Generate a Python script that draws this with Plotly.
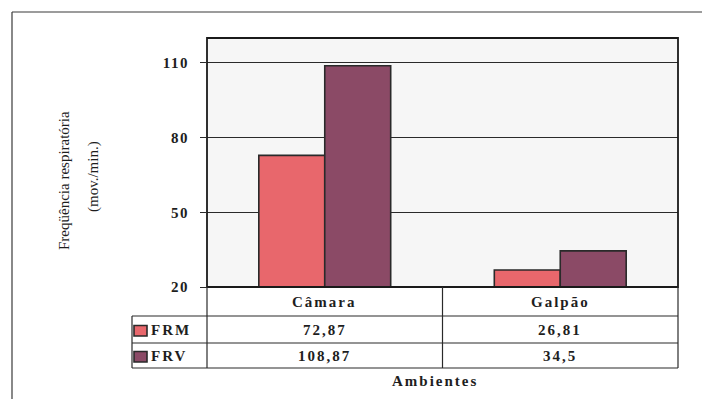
import plotly.graph_objects as go

# Respiratory frequency by environment
ambientes = ["Câmara", "Galpão"]
series_names = ["FRM", "FRV"]
frm = [72.87, 26.81]
frv = [108.87, 34.5]
y_ticks = [20, 50, 80, 110]

colors = {"FRM": "#e8676c", "FRV": "#8b4a66"}
values = {"FRM": frm, "FRV": frv}

W, H = 702, 399
L, R, T, B = 207, 678, 38, 287  # plot-area edges in pixels
FONT = "Liberation Serif"
INK = "#1e1e1e"
LINE = "#2a2a2a"


def px(x):
    return (x - L) / (R - L)


def py(y):
    return (B - y) / (B - T)


def fmt(v):
    return f"{v:g}".replace(".", ",")


fig = go.Figure()
for name in series_names:
    fig.add_trace(go.Bar(
        x=ambientes, y=[v - 20 for v in values[name]], base=20, name=name,
        marker=dict(color=colors[name], line=dict(color=LINE, width=1.6)),
        showlegend=False, hoverinfo="skip",
    ))

shapes = []
# outer frame: top and left edges only
shapes.append(dict(type="line", xref="paper", yref="paper",
                   x0=px(12), x1=px(W), y0=py(12), y1=py(12),
                   line=dict(color="#3a3a3a", width=1.2)))
shapes.append(dict(type="line", xref="paper", yref="paper",
                   x0=px(12), x1=px(12), y0=py(12), y1=py(H),
                   line=dict(color="#3a3a3a", width=1.2)))
# plot-area border
shapes.append(dict(type="rect", xref="paper", yref="paper",
                   x0=0, x1=1, y0=0, y1=1, line=dict(color="#1a1a1a", width=1.8)))

# data table under the plot
for yl in [316, 343, 368]:
    shapes.append(dict(type="line", xref="paper", yref="paper",
                       x0=px(132), x1=1, y0=py(yl), y1=py(yl),
                       line=dict(color=LINE, width=1.2)))
for xl in [L, (L + R) / 2, R]:
    shapes.append(dict(type="line", xref="paper", yref="paper",
                       x0=px(xl), x1=px(xl), y0=0, y1=py(368),
                       line=dict(color=LINE, width=1.2)))
shapes.append(dict(type="line", xref="paper", yref="paper",
                   x0=px(132), x1=px(132), y0=py(316), y1=py(368),
                   line=dict(color=LINE, width=1.2)))

table_font = dict(family=FONT, size=15, color=INK, weight=700)
annotations = []
col_x = [px(L + (R - L) * 0.25), px(L + (R - L) * 0.75)]
for cx, cat in zip(col_x, ambientes):
    annotations.append(dict(xref="paper", yref="paper", x=cx, y=py(302),
                            xanchor="center", yanchor="middle",
                            text=cat, showarrow=False, font=table_font))

row_centers = [330, 356]
for rc, name in zip(row_centers, series_names):
    # legend key
    shapes.append(dict(type="rect", xref="paper", yref="paper",
                       x0=px(134), x1=px(147), y0=py(rc - 4.5), y1=py(rc + 6),
                       fillcolor=colors[name], line=dict(color=LINE, width=1.6)))
    annotations.append(dict(xref="paper", yref="paper", x=px(149), y=py(rc),
                            xanchor="left", yanchor="middle", align="left",
                            text=name, showarrow=False, font=table_font))
    for cx, v in zip(col_x, values[name]):
        annotations.append(dict(xref="paper", yref="paper", x=cx, y=py(rc),
                                xanchor="center", yanchor="middle",
                                text=fmt(v), showarrow=False, font=table_font))

annotations.append(dict(xref="paper", yref="paper", x=px(435), y=py(381),
                        xanchor="center", yanchor="middle",
                        text="Ambientes", showarrow=False, font=table_font))

# y-axis title, two lines
title_font = dict(family=FONT, size=15, color=INK)
annotations.append(dict(xref="paper", yref="paper", x=px(64), y=py(181),
                        xanchor="center", yanchor="middle", textangle=-90,
                        text="Freqüência respiratória", showarrow=False,
                        font=title_font))
annotations.append(dict(xref="paper", yref="paper", x=px(93), y=py(177),
                        xanchor="center", yanchor="middle", textangle=-90,
                        text="(mov./min.)", showarrow=False, font=title_font))

fig.update_layout(
    width=W, height=H,
    margin=dict(l=L, r=W - R, t=T, b=H - B, pad=0),
    paper_bgcolor="white", plot_bgcolor="#f6f6f6",
    barmode="group", bargap=0.44, bargroupgap=0,
    shapes=shapes, annotations=annotations,
    xaxis=dict(showticklabels=False, showgrid=False, zeroline=False,
               showline=False, ticks=""),
    yaxis=dict(range=[20, 120], tickvals=y_ticks, showgrid=True,
               gridcolor=LINE, gridwidth=1, zeroline=False,
               ticks="outside", ticklen=6, tickcolor=LINE,
               ticklabelstandoff=8,
               tickfont=dict(family=FONT, size=15, color=INK, weight=700)),
)

# widen the letter spacing of the table labels and tick labels
spacing_js = """
document.documentElement.style.overflow = 'hidden';
document.body.style.overflow = 'hidden';
var gd = document.getElementById('{plot_id}');
gd.querySelectorAll('.annotation-text').forEach(function (t) {
  var s = t.textContent;
  if (s.indexOf('respirat') < 0 && s.indexOf('mov.') < 0) {
    t.style.letterSpacing = '2px';
  }
});
gd.querySelectorAll('.ytick text').forEach(function (t) {
  t.style.letterSpacing = '1.5px';
});
"""

fig.write_html("out.html", post_script=spacing_js)
